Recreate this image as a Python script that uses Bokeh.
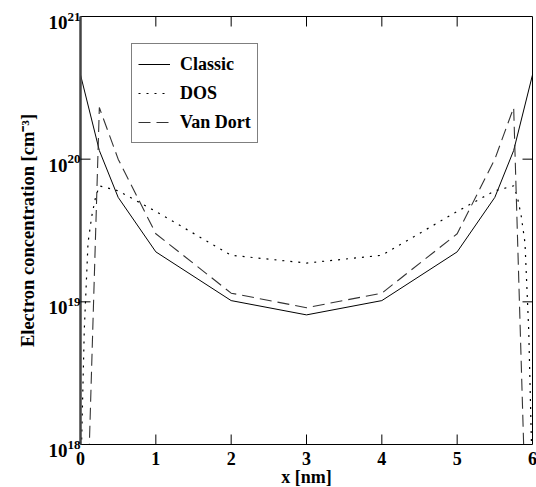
import math
from bokeh.plotting import figure
from bokeh.models import Legend, LegendItem, Range1d, Label
from bokeh.embed import file_html
from bokeh.resources import INLINE

# ---- data ----
x_classic = [0, 0.25, 0.5, 1, 2, 3, 4, 5, 5.5, 5.75, 6]
classic = [3.9e20, 1.15e20, 5.4e19, 2.24e19, 1.02e19, 8.1e18, 1.02e19, 2.24e19, 5.4e19, 1.15e20, 3.9e20]

x_dos = [0, 0.05, 0.1, 0.15, 0.2, 0.25, 0.5, 1, 2, 3, 4, 5, 5.5, 5.75, 5.8, 5.85, 5.9, 5.95, 6]
dos = [5e17, 6.3e18, 2.6e19, 4.0e19, 5.4e19, 6.5e19, 6.0e19, 4.3e19, 2.12e19, 1.87e19, 2.12e19,
       4.3e19, 6.0e19, 6.5e19, 5.4e19, 4.0e19, 2.6e19, 6.3e18, 5e17]

x_vandort = [0, 0.25, 0.5, 1, 2, 3, 4, 5, 5.5, 5.75, 6]
vandort = [8e15, 2.3e20, 1.0e20, 3.0e19, 1.15e19, 9.1e18, 1.15e19, 3.0e19, 1.0e20, 2.3e20, 8e15]

x_ticks = [0, 1, 2, 3, 4, 5, 6]
x_tick_labels = ["0", "1", "2", "3", "4", "5", "6"]
y_ticks = [1e18, 1e19, 1e20, 1e21]
y_tick_base = ["10", "10", "10", "10"]
y_tick_exp = ["18", "19", "20", "21"]
series_names = ["Classic", "DOS", "Van Dort"]
x_label = "x [nm]"
y_label = "Electron concentration [cm\u207b\u00b3]"

FONT = "Liberation Serif"
W, H = 536, 487
LEFT, RIGHT, TOP, BOTTOM = 80, 4, 16, 43          # margins around the plot box, px
X0, X1 = x_ticks[0], x_ticks[-1]
Y0, Y1 = y_ticks[0], y_ticks[-1]
px_x = (W - LEFT - RIGHT) / (X1 - X0)
px_dec = (H - TOP - BOTTOM) / (math.log10(Y1) - math.log10(Y0))
xr = Range1d(X0 - LEFT / px_x, X1 + RIGHT / px_x)
yr = Range1d(10 ** (math.log10(Y0) - BOTTOM / px_dec), 10 ** (math.log10(Y1) + TOP / px_dec))

p = figure(width=W, height=H, x_range=xr, y_range=yr, y_axis_type="log",
           x_axis_location=None, y_axis_location=None,
           output_backend="svg", toolbar_location=None,
           min_border_left=0, min_border_right=0, min_border_top=0, min_border_bottom=0)
p.grid.visible = False
p.outline_line_color = None
p.background_fill_color = "white"
p.border_fill_color = "white"

r1 = p.line(x_classic, classic, line_color="black", line_width=1)
r2 = p.line(x_dos, dos, line_color="black", line_width=1.2, line_dash="2 6")
r3 = p.line(x_vandort, vandort, line_color="#333333", line_width=1.1, line_dash="12 6")

# white mask below the plot box (the curves run below 1e18 at the edges)
p.quad(left=xr.start, right=xr.end, bottom=yr.start, top=Y0, fill_color="white", line_color=None)

# plot box
p.quad(left=X0, right=X1, bottom=Y0, top=Y1, fill_color=None, line_color="black", line_width=1)
p.segment(x0=X0, y0=Y0, x1=X0, y1=Y1, line_color="#444444", line_width=2.5)

# inward ticks
inner_x = x_ticks[1:-1]
inner_y = y_ticks[1:-1]
p.ray(x=inner_x, y=[Y0] * len(inner_x), length=10, length_units="screen",
      angle=math.pi / 2, line_color="black", line_width=1)
p.ray(x=inner_x, y=[Y1] * len(inner_x), length=10, length_units="screen",
      angle=-math.pi / 2, line_color="black", line_width=1)
p.ray(x=[X0] * len(inner_y), y=inner_y, length=10, length_units="screen",
      angle=0, line_color="black", line_width=1)
p.ray(x=[X1] * len(inner_y), y=inner_y, length=10, length_units="screen",
      angle=math.pi, line_color="black", line_width=1)

def lab(**kw):
    kw.setdefault("text_font", FONT)
    kw.setdefault("text_font_style", "bold")
    kw.setdefault("text_color", "black")
    p.add_layout(Label(**kw))

# x tick labels
for t, s in zip(x_ticks, x_tick_labels):
    lab(x=t, y=Y0, text=s, y_offset=-7, text_align="center", text_baseline="top",
        text_font_size="18px")

# x axis label
lab(x=(X0 + X1) / 2, y=Y0, text=x_label, y_offset=-32, text_align="center",
    text_baseline="alphabetic", text_font_size="18px")

# y tick labels: 10 with superscript exponent
for t, b, e in zip(y_ticks, y_tick_base, y_tick_exp):
    lab(x=X0, y=t, text=b, x_offset=-13, y_offset=-6, text_align="right",
        text_baseline="alphabetic", text_font_size="19px")
    lab(x=X0, y=t, text=e, x_offset=-13, y_offset=0, text_align="left",
        text_baseline="alphabetic", text_font_size="13px")

# y axis label
lab(x=X0, y=math.sqrt(Y0 * Y1), text=y_label, x_offset=-53, angle=math.pi / 2,
    text_align="center", text_baseline="middle", text_font_size="18.5px")

legend = Legend(items=[LegendItem(label=n, renderers=[r]) for n, r in zip(series_names, [r1, r2, r3])],
                location=(131, 344))
legend.label_text_font = FONT
legend.label_text_font_style = "bold"
legend.label_text_font_size = "18px"
legend.label_text_color = "black"
legend.glyph_width = 32
legend.glyph_height = 28
legend.label_height = 28
legend.label_standoff = 10
legend.spacing = 1
legend.padding = 6
legend.margin = 0
legend.border_line_color = "black"
legend.border_line_width = 1
legend.background_fill_alpha = 1
p.add_layout(legend, "center")

open("out.html", "w").write(file_html(p, INLINE))
